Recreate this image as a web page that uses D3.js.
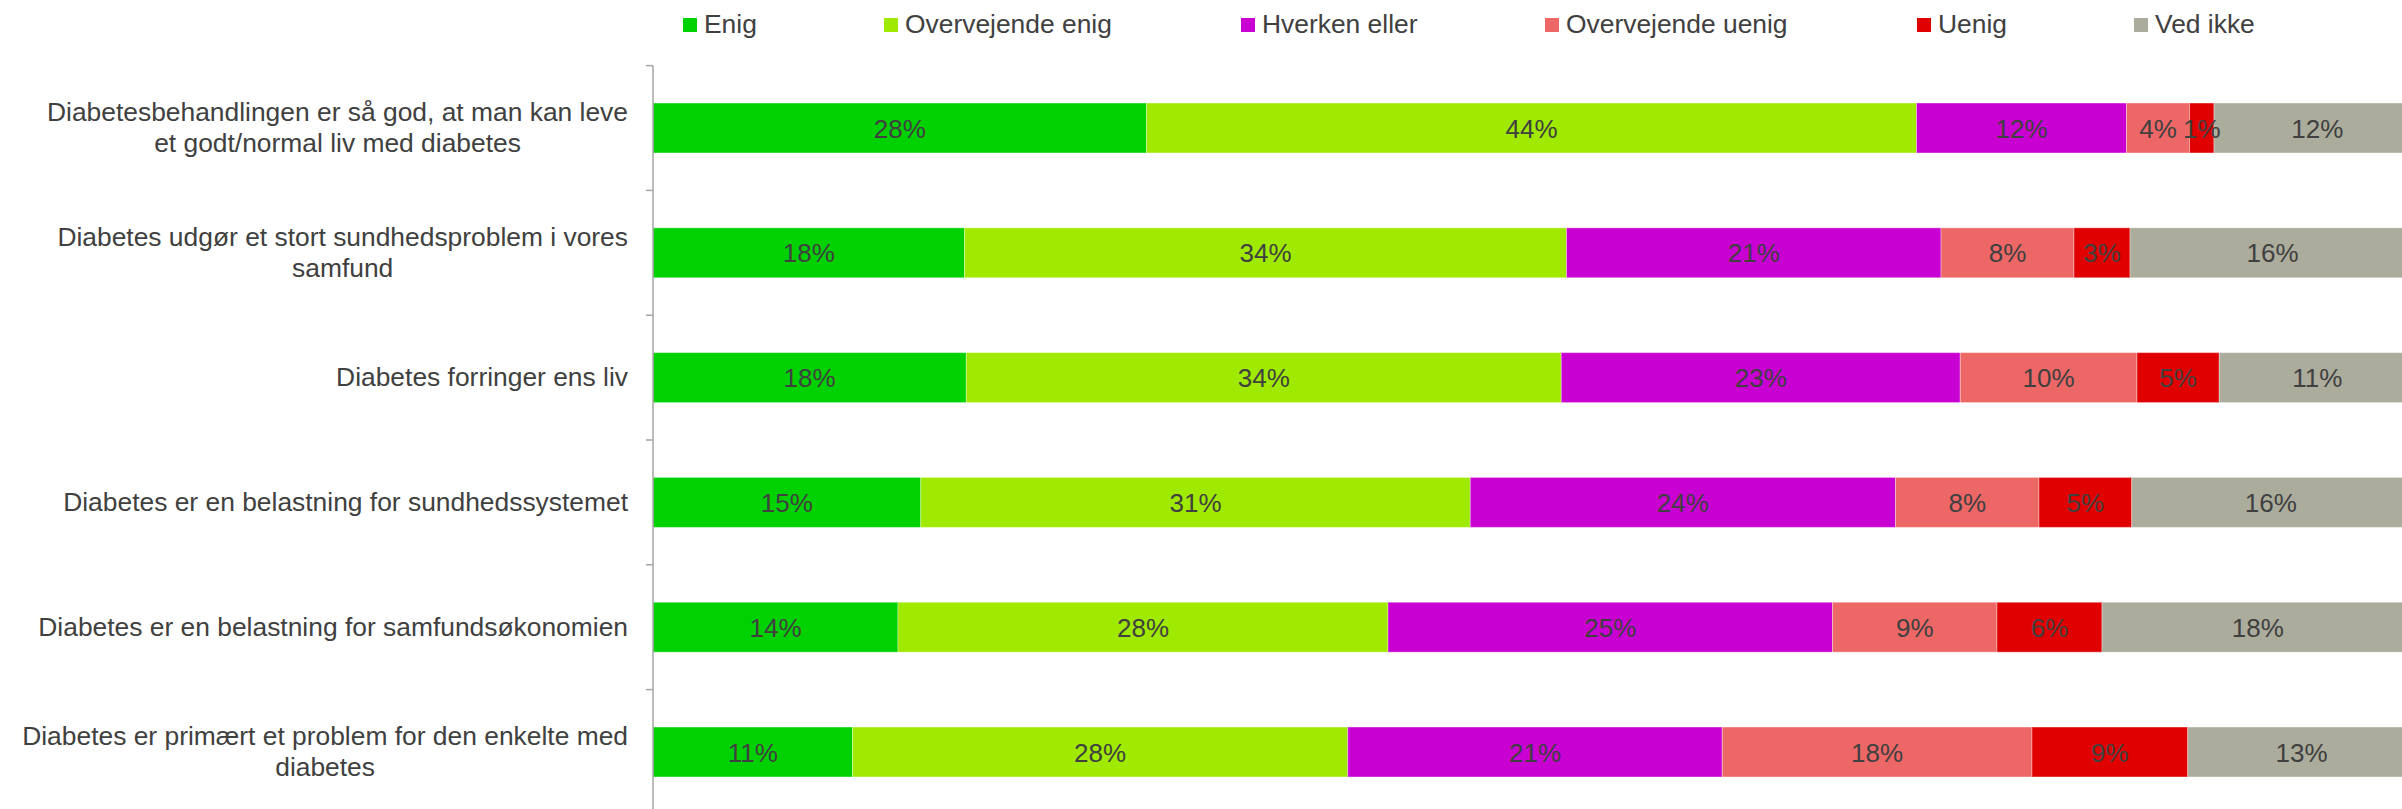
<!DOCTYPE html>
<html>
<head>
<meta charset="utf-8">
<script src="https://cdn.jsdelivr.net/npm/d3@7"></script>
<style>
  html, body { margin: 0; padding: 0; background: #fff; overflow: hidden; }
  svg { display: block; font-family: "Liberation Sans", Arial, sans-serif; }
</style>
</head>
<body>
<svg id="chart" width="2402" height="809"></svg>
<script>
// ---- Data ----
const categories = [
  "Diabetesbehandlingen er så god, at man kan leve\net godt/normal liv med diabetes",
  "Diabetes udgør et stort sundhedsproblem i vores\nsamfund",
  "Diabetes forringer ens liv",
  "Diabetes er en belastning for sundhedssystemet",
  "Diabetes er en belastning for samfundsøkonomien",
  "Diabetes er primært et problem for den enkelte med\ndiabetes"
];
const seriesNames = ["Enig", "Overvejende enig", "Hverken eller", "Overvejende uenig", "Uenig", "Ved ikke"];
const enig             = [28.2, 17.8, 17.9, 15.3, 14.0, 11.4];
const overvejendeEnig  = [44.0, 34.4, 34.0, 31.4, 28.0, 28.3];
const hverkenEller     = [12.0, 21.4, 22.8, 24.3, 25.4, 21.4];
const overvejendeUenig = [3.6, 7.6, 10.1, 8.2, 9.4, 17.7];
const uenig            = [1.4, 3.2, 4.7, 5.3, 6.0, 8.9];
const vedIkke          = [11.8, 16.3, 11.2, 15.9, 17.8, 13.0];
const seriesValues = [enig, overvejendeEnig, hverkenEller, overvejendeUenig, uenig, vedIkke];
const colors = ["#00d100", "#9fea00", "#c800d2", "#ee6767", "#e00000", "#acac9c"];

// ---- Layout ----
const W = 2402, H = 809;
const axisX = 653, axisMax = 2403;
const plotTop = 65.6, plotBottom = 814.4;
const fontSize = 26.4;
const labelFontSize = 26;
const textColor = "#404040";
const legendX = [683, 884, 1241, 1545, 1917, 2134];

const svg = d3.select("#chart");

const x = d3.scaleLinear().domain([0, 100]).range([axisX, axisMax]);
const y = d3.scaleBand().domain(d3.range(categories.length))
  .range([plotTop, plotBottom]).paddingInner(0.6).paddingOuter(0.3);

// stacked data
const table = categories.map((c, i) => {
  const row = { i };
  seriesNames.forEach((s, k) => row[s] = seriesValues[k][i]);
  return row;
});
const stack = d3.stack().keys(seriesNames)(table);

const gBars = svg.append("g");
stack.forEach((layer, k) => {
  const g = gBars.append("g").attr("fill", colors[k]);
  g.selectAll("rect").data(layer).join("rect")
    .attr("x", d => x(d[0]))
    .attr("y", d => y(d.data.i))
    .attr("width", d => x(d[1]) - x(d[0]))
    .attr("height", y.bandwidth())
    .attr("stroke", "#ffffff")
    .attr("stroke-opacity", 0.35)
    .attr("stroke-width", 1);
});

// data labels
const gLabels = svg.append("g")
  .attr("font-size", labelFontSize)
  .attr("fill", textColor)
  .attr("text-anchor", "middle");
stack.forEach((layer, k) => {
  gLabels.selectAll(null).data(layer).join("text")
    .attr("x", d => (x(d[0]) + x(d[1])) / 2)
    .attr("y", d => y(d.data.i) + y.bandwidth() / 2)
    .attr("dy", "0.37em")
    .text(d => Math.round(d[1] - d[0]) + "%");
});

// axis (band boundaries as ticks)
const gAxis = svg.append("g");
gAxis.append("line")
  .attr("x1", axisX).attr("x2", axisX)
  .attr("y1", plotTop).attr("y2", plotBottom)
  .attr("stroke", "#a6a6a6").attr("stroke-width", 1.5);
const boundaries = d3.range(categories.length + 1).map(i => plotTop + i * y.step());
gAxis.selectAll(".tick").data(boundaries).join("line")
  .attr("x1", axisX - 7).attr("x2", axisX)
  .attr("y1", d => d).attr("y2", d => d)
  .attr("stroke", "#a6a6a6").attr("stroke-width", 1.5);

// category labels
const labelRight = 628;
const lineH = 30.5;
const gCat = svg.append("g").attr("font-size", fontSize).attr("fill", textColor);
categories.forEach((c, i) => {
  const lines = c.split("\n");
  const t = gCat.append("text").attr("text-anchor", "middle");
  const cy = y(i) + y.bandwidth() / 2;
  const spans = lines.map((ln, j) => t.append("tspan")
    .attr("y", cy + (j - (lines.length - 1) / 2) * lineH)
    .attr("dy", "0.33em")
    .text(ln));
  const maxW = d3.max(spans, s => s.node().getComputedTextLength());
  spans.forEach(s => s.attr("x", labelRight - maxW / 2));
});

// legend
const gLeg = svg.append("g").attr("font-size", fontSize).attr("fill", textColor);
seriesNames.forEach((s, k) => {
  const g = gLeg.append("g").attr("transform", `translate(${legendX[k]},0)`);
  g.append("rect").attr("x", 0).attr("y", 18).attr("width", 14).attr("height", 14).attr("fill", colors[k]);
  g.append("text").attr("x", 21).attr("y", 33.3).text(s);
});
</script>
</body>
</html>
